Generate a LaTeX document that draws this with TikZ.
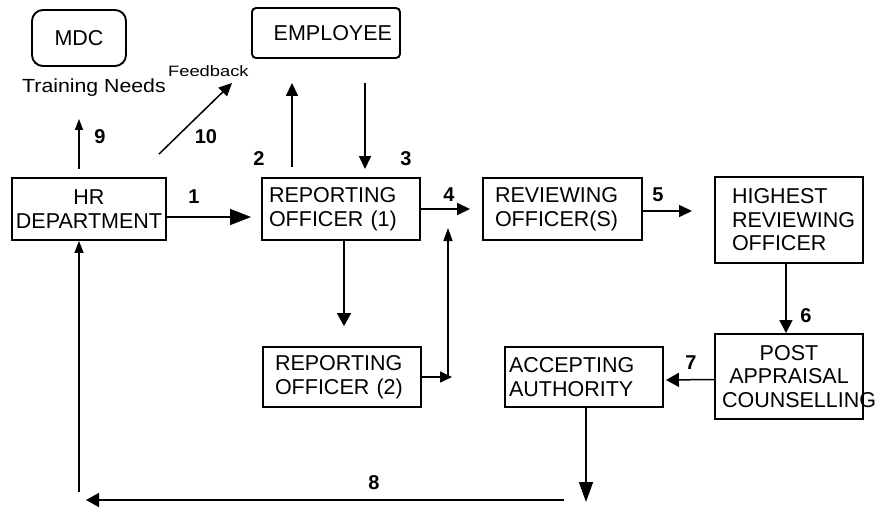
\documentclass[tikz,border=0pt]{standalone}
\usepackage{fontspec}
\setmainfont{Liberation Sans}
\usetikzlibrary{arrows.meta}
\newcommand{\boxfont}{\fontsize{21.5}{23.5}\selectfont}
\newcommand{\numfont}{\fontsize{20}{22}\selectfont\bfseries}
\begin{document}
\begin{tikzpicture}[x=1pt,y=-1pt,
  box/.style={draw, line width=1.9pt, inner sep=0pt, font=\boxfont},
  flow/.style={line width=1.5pt, -{Triangle[length=13pt,width=12pt]}},
  bigflow/.style={line width=1.5pt, -{Triangle[length=21pt,width=16pt]}},
  slimflow/.style={line width=1.4pt, -{Triangle[length=11pt,width=8pt]}},
  num/.style={font=\numfont, inner sep=0pt},
]
\fill[white] (0,0) rectangle (878,508);
\useasboundingbox (0,0) rectangle (878,508);

% boxes
\node[box, rounded corners=11pt, minimum width=94pt, minimum height=56pt] (mdc) at (79,38) {MDC};
\node[box, rounded corners=4pt, minimum width=148pt, minimum height=50pt,
      text width=132pt, align=right] (emp) at (326,33) {EMPLOYEE};
\node[box, minimum width=154pt, minimum height=62pt, text width=152pt, align=center]
  (hr) at (89,209) {HR\\DEPARTMENT};
\node[box, minimum width=158pt, minimum height=62pt, text width=144pt, align=left]
  (ro1) at (341,209) {REPORTING\\OFFICER (1)};
\node[box, minimum width=159pt, minimum height=62pt, text width=135pt, align=left]
  (rev) at (562.5,209) {REVIEWING\\OFFICER(S)};
\node[box, minimum width=148pt, minimum height=86pt, text width=114pt, align=left]
  (high) at (789,220) {HIGHEST\\REVIEWING\\OFFICER};
\node[box, minimum width=148pt, minimum height=85pt, text width=134pt, align=center]
  (post) at (789,376.5) {POST\\APPRAISAL\\COUNSELLING};
\node[box, minimum width=158pt, minimum height=60pt, text width=150pt, align=left]
  (acc) at (584,377) {ACCEPTING\\AUTHORITY};
\node[box, minimum width=158pt, minimum height=60pt, text width=134pt, align=left]
  (ro2) at (342,377) {REPORTING\\OFFICER (2)};

% free labels
\node[anchor=base west, inner sep=0pt, font=\fontsize{19}{20}\selectfont]
  (needs) at (22,93) {\scalebox{1.12}[1]{Training Needs}};
\node[anchor=base west, inner sep=0pt, font=\fontsize{15}{16}\selectfont]
  (fb) at (168,77) {\scalebox{1.22}[1]{Feedback}};

% free ends of connectors
\coordinate (merge) at (448,377);
\coordinate (join) at (448,228);
\coordinate (p5) at (692,211);
\coordinate (accdown) at (586,502);
\coordinate (r8) at (564,500);
\coordinate (l8) at (86,500);
\coordinate (b8) at (79,492);

% connectors
\draw[bigflow] ([yshift=-8pt]hr.east) -- ([xshift=-10pt,yshift=-8pt]ro1.west);
\draw[flow] ([xshift=-49pt,yshift=10pt]ro1.north) -- ([xshift=-34pt,yshift=-24pt]emp.south);
\draw[flow] ([xshift=39pt,yshift=-24pt]emp.south) -- ([xshift=24pt,yshift=8pt]ro1.north);
\draw[slimflow] ([xshift=-10pt,yshift=8pt]hr.north) -- ([yshift=-52pt]mdc.south);
\draw[flow] ([xshift=70pt,yshift=23pt]hr.north) -- ([xshift=64pt,yshift=-6pt]fb.base west);
\draw[flow] (ro1.east) -- ([xshift=-12pt]rev.west);
\draw[flow, -{Triangle[length=13pt,width=14pt]}] ([xshift=3pt]ro1.south) -- ([xshift=2pt,yshift=20pt]ro2.north);
\draw[flow, -{Triangle[length=12pt,width=11pt]}] (ro2.east) -- ([xshift=4pt]merge);
\draw[flow, -{Triangle[length=13pt,width=9pt]}] (merge) -- (join);
\draw[flow] ([yshift=-2pt]rev.east) -- (p5);
\draw[flow, -{Triangle[length=13pt,width=13pt]}] ([xshift=-3pt]high.south) -- ([xshift=-3pt]post.north);
\draw[flow, -{Triangle[length=13pt,width=14pt]}] ([yshift=-3pt]post.west) -- ([xshift=2pt,yshift=-3pt]acc.east);
\draw[flow, -{Triangle[length=20pt,width=14pt]}] ([xshift=2pt]acc.south) -- (accdown);
\draw[flow, -{Triangle[length=13pt,width=14pt]}] (r8) -- (l8);
\draw[flow, -{Triangle[length=12pt,width=9pt]}] (b8) -- ([xshift=-10pt]hr.south);

% step numbers
\node[num] (n1) at (194,197) {1};
\node[num] (n2) at (259,159) {2};
\node[num] (n3) at (406,159) {3};
\node[num] (n4) at (449,195) {4};
\node[num] (n5) at (658,195) {5};
\node[num] (n6) at (806,316) {6};
\node[num] (n7) at (691,363) {7};
\node[num] (n8) at (374,483) {8};
\node[num] (n9) at (100,137) {9};
\node[num] (n10) at (206,137) {10};
\end{tikzpicture}
\end{document}
